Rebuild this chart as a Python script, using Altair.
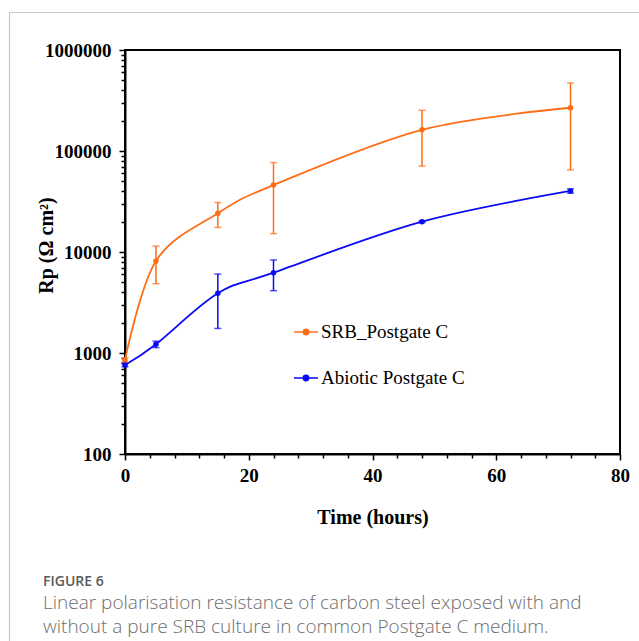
import altair as alt
import pandas as pd

# ---- data ----
time_h = [0, 5, 15, 24, 48, 72]
srb_rp = [850, 8150, 24200, 46000, 162000, 268000]
srb_sd = [40, 3300, 6700, 30800, 91000, 203000]
abiotic_rp = [760, 1220, 3900, 6240, 19950, 40200]
abiotic_sd = [30, 90, 2150, 2100, 400, 2000]
series_names = ["SRB_Postgate C", "Abiotic Postgate C"]
series_colors = ["#FF6D17", "#0A0AF5"]

y_major = [100, 1000, 10000, 100000, 1000000]
y_ticks = [m * d for d in [100, 1000, 10000, 100000] for m in range(1, 10)] + [1000000]
x_ticks = list(range(0, 81, 4))
x_major = [0, 20, 40, 60, 80]

caption_lines = [
    "FIGURE 6",
    "Linear polarisation resistance of carbon steel exposed with and",
    "without a pure SRB culture in common Postgate C medium.",
]

rows = []
for name, vals, sds in [(series_names[0], srb_rp, srb_sd), (series_names[1], abiotic_rp, abiotic_sd)]:
    for t, v, s in zip(time_h, vals, sds):
        rows.append({"t": t, "rp": v, "lo": v - s, "hi": v + s, "series": name})
df = pd.DataFrame(rows)

W, H = 495, 404
PL, PT = 125, 50

sc = alt.Scale(domain=series_names, range=series_colors)
leg = alt.Legend(
    title=None,
    orient="none",
    legendX=168,
    legendY=269,
    symbolType="M-1,0L1,0M-0.22,0A0.22,0.22 0 1,1 0.22,0A0.22,0.22 0 1,1 -0.22,0Z",
    symbolSize=576,
    symbolStrokeWidth=1.6,
    labelFont="Liberation Serif",
    labelFontSize=19,
    labelColor="black",
    labelOffset=2,
    rowPadding=23,
)

x_major_js = "[" + ",".join(str(v) for v in x_major) + "]"
y_major_js = "[" + ",".join(str(v) for v in y_major) + "]"

x_axis = alt.Axis(
    values=x_ticks,
    labelExpr="indexof(" + x_major_js + ", datum.value) >= 0 ? format(datum.value, 'd') : ''",
    tickSize={"condition": {"test": "indexof(" + x_major_js + ", datum.value) >= 0", "value": 6}, "value": 4},
    labelOverlap=False,
    labelFlush=False,
    grid=False,
    title="Time (hours)",
    titleX=W / 2,
    titleY=63,
    titleBaseline="middle",
    titleAlign="center",
    labelPadding=6,
)
y_axis = alt.Axis(
    values=y_ticks,
    labelExpr="indexof(" + y_major_js + ", datum.value) >= 0 ? format(datum.value, 'd') : ''",
    tickSize={"condition": {"test": "indexof(" + y_major_js + ", datum.value) >= 0", "value": 6}, "value": 4},
    labelOverlap=False,
    labelFlush=False,
    grid=False,
    title="Rp (Ω cm²)",
    titleAngle=270,
    titleX=-79,
    titleY=H / 2 - 7,
    titleAlign="center",
    titleBaseline="middle",
    labelPadding=8,
)
x_scale = alt.Scale(domain=[0, 80], nice=False, zero=False)
y_scale = alt.Scale(type="log", domain=[100, 1000000], nice=False)


def X(field):
    return alt.X(field, scale=x_scale, axis=x_axis)


def Y(field):
    return alt.Y(field, scale=y_scale, axis=y_axis)


base = alt.Chart(df)

lines = base.mark_line(interpolate="cardinal", tension=0, strokeWidth=1.8).encode(
    x=X("t:Q"), y=Y("rp:Q"), stroke=alt.Stroke("series:N", scale=sc, legend=leg)
)
err = base.mark_rule(strokeWidth=1.5).encode(
    x=X("t:Q"), y=Y("lo:Q"), y2="hi:Q", stroke=alt.Stroke("series:N", scale=sc, legend=leg)
)
cap_lo = base.mark_tick(orient="horizontal", size=7, thickness=1.5).encode(
    x=X("t:Q"), y=Y("lo:Q"), color=alt.Color("series:N", scale=sc, legend=None)
)
cap_hi = base.mark_tick(orient="horizontal", size=7, thickness=1.5).encode(
    x=X("t:Q"), y=Y("hi:Q"), color=alt.Color("series:N", scale=sc, legend=None)
)
pts = base.mark_point(filled=True, size=30, opacity=1, shape="circle").encode(
    x=X("t:Q"), y=Y("rp:Q"), fill=alt.Fill("series:N", scale=sc, legend=leg)
)

cap_df = pd.DataFrame({
    "text": caption_lines,
    "kind": ["head", "body", "body"],
    "line": [0, 1, 2],
})
cap_head = alt.Chart(cap_df).transform_filter("datum.kind == 'head'").mark_text(
    align="left", baseline="middle", font="Open Sans", fontSize=14, fontWeight=600, color="#5a5a5a"
).encode(x=alt.value(43 - PL), y=alt.value(582 - PT), text="text:N")
cap_body = alt.Chart(cap_df).transform_filter("datum.kind == 'body'").transform_calculate(
    yy="(603 - 50) + (datum.line - 1) * 24"
).mark_text(
    align="left", baseline="middle", font="Open Sans", fontSize=19, fontWeight=300, color="#6e6e6e"
).encode(x=alt.value(43 - PL), y=alt.Y("yy:Q", scale=None, axis=None), text="text:N")

frame_left = alt.Chart(cap_df).transform_filter("datum.line == 0").mark_rule(
    color="#c8c8c8", strokeWidth=1.2
).encode(x=alt.value(9.5 - PL), y=alt.value(12 - PT), y2=alt.value(641 - PT))
frame_top = alt.Chart(cap_df).transform_filter("datum.line == 0").mark_rule(
    color="#c8c8c8", strokeWidth=1.2
).encode(x=alt.value(9.5 - PL), x2=alt.value(639 - PL), y=alt.value(12.5 - PT))

chart = alt.layer(
    frame_left, frame_top, lines, err, cap_lo, cap_hi, pts, cap_head, cap_body
).properties(
    width=W, height=H,
    autosize=alt.AutoSizeParams(type="none"),
    padding={"left": PL, "top": PT, "right": 639 - PL - W, "bottom": 641 - PT - H},
    background="white",
).configure_view(
    stroke="black", strokeWidth=2
).configure_axis(
    domainColor="black", domainWidth=2, tickColor="black", tickWidth=1.5,
    labelFont="Liberation Serif", labelFontSize=19, labelFontWeight="bold", labelColor="black",
    titleFont="Liberation Serif", titleFontSize=20, titleFontWeight="bold", titleColor="black",
    labelOverlap=False, labelFlush=False,
)

chart.save("out.html", embed_options={"renderer": "svg", "actions": False})
